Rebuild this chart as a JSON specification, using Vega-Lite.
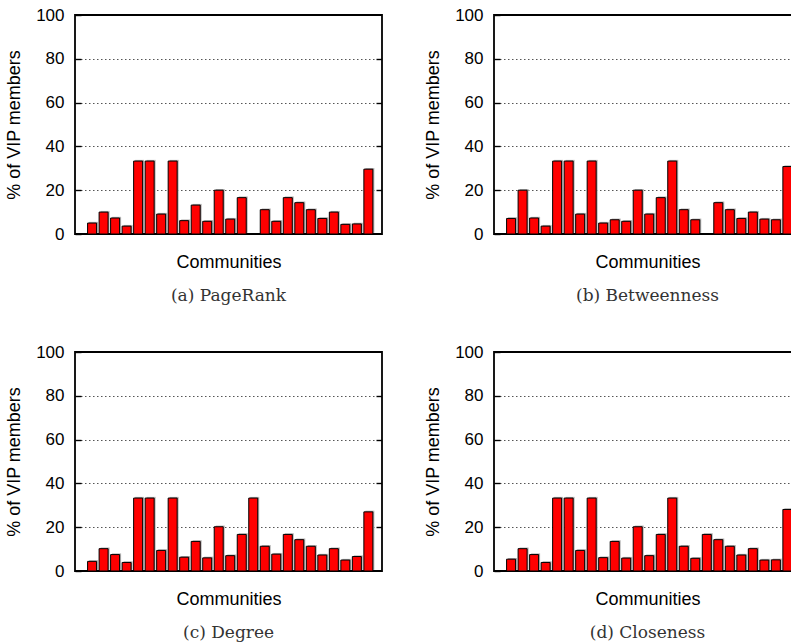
{
  "$schema": "https://vega.github.io/schema/vega-lite/v6.json",
  "padding": {"left": 4, "top": 5, "right": 0, "bottom": 0},
  "background": "white",
  "datasets": {
    "pagerank": [
      {"community": 1, "pct": 5.0}, {"community": 2, "pct": 10.0}, {"community": 3, "pct": 7.3}, {"community": 4, "pct": 3.6}, {"community": 5, "pct": 33.3},
      {"community": 6, "pct": 33.3}, {"community": 7, "pct": 9.1}, {"community": 8, "pct": 33.3}, {"community": 9, "pct": 6.1}, {"community": 10, "pct": 13.2},
      {"community": 11, "pct": 5.8}, {"community": 12, "pct": 20.0}, {"community": 13, "pct": 6.8}, {"community": 14, "pct": 16.6}, {"community": 15, "pct": 0},
      {"community": 16, "pct": 11.1}, {"community": 17, "pct": 5.8}, {"community": 18, "pct": 16.6}, {"community": 19, "pct": 14.3}, {"community": 20, "pct": 11.1},
      {"community": 21, "pct": 7.1}, {"community": 22, "pct": 10.0}, {"community": 23, "pct": 4.4}, {"community": 24, "pct": 4.6}, {"community": 25, "pct": 29.6}
    ],
    "betweenness": [
      {"community": 1, "pct": 7.1}, {"community": 2, "pct": 20.0}, {"community": 3, "pct": 7.3}, {"community": 4, "pct": 3.6}, {"community": 5, "pct": 33.3},
      {"community": 6, "pct": 33.3}, {"community": 7, "pct": 9.1}, {"community": 8, "pct": 33.3}, {"community": 9, "pct": 5.0}, {"community": 10, "pct": 6.5},
      {"community": 11, "pct": 5.8}, {"community": 12, "pct": 20.0}, {"community": 13, "pct": 9.1}, {"community": 14, "pct": 16.6}, {"community": 15, "pct": 33.3},
      {"community": 16, "pct": 11.1}, {"community": 17, "pct": 6.5}, {"community": 18, "pct": 0}, {"community": 19, "pct": 14.3}, {"community": 20, "pct": 11.1},
      {"community": 21, "pct": 7.1}, {"community": 22, "pct": 10.0}, {"community": 23, "pct": 6.8}, {"community": 24, "pct": 6.5}, {"community": 25, "pct": 30.8}
    ],
    "degree": [
      {"community": 1, "pct": 4.4}, {"community": 2, "pct": 10.2}, {"community": 3, "pct": 7.5}, {"community": 4, "pct": 3.9}, {"community": 5, "pct": 33.3},
      {"community": 6, "pct": 33.3}, {"community": 7, "pct": 9.4}, {"community": 8, "pct": 33.3}, {"community": 9, "pct": 6.3}, {"community": 10, "pct": 13.5},
      {"community": 11, "pct": 6.0}, {"community": 12, "pct": 20.2}, {"community": 13, "pct": 7.0}, {"community": 14, "pct": 16.7}, {"community": 15, "pct": 33.3},
      {"community": 16, "pct": 11.3}, {"community": 17, "pct": 7.7}, {"community": 18, "pct": 16.7}, {"community": 19, "pct": 14.3}, {"community": 20, "pct": 11.3},
      {"community": 21, "pct": 7.3}, {"community": 22, "pct": 10.2}, {"community": 23, "pct": 5.0}, {"community": 24, "pct": 6.6}, {"community": 25, "pct": 27.0}
    ],
    "closeness": [
      {"community": 1, "pct": 5.4}, {"community": 2, "pct": 10.2}, {"community": 3, "pct": 7.5}, {"community": 4, "pct": 3.9}, {"community": 5, "pct": 33.3},
      {"community": 6, "pct": 33.3}, {"community": 7, "pct": 9.4}, {"community": 8, "pct": 33.3}, {"community": 9, "pct": 6.1}, {"community": 10, "pct": 13.5},
      {"community": 11, "pct": 5.9}, {"community": 12, "pct": 20.2}, {"community": 13, "pct": 7.0}, {"community": 14, "pct": 16.7}, {"community": 15, "pct": 33.3},
      {"community": 16, "pct": 11.3}, {"community": 17, "pct": 5.8}, {"community": 18, "pct": 16.7}, {"community": 19, "pct": 14.3}, {"community": 20, "pct": 11.3},
      {"community": 21, "pct": 7.3}, {"community": 22, "pct": 10.2}, {"community": 23, "pct": 5.0}, {"community": 24, "pct": 5.1}, {"community": 25, "pct": 28.1}
    ]
  },
  "vconcat": [
    {
      "hconcat": [
        {
          "width": 307, "height": 219,
          "data": {"name": "pagerank"},
          "title": {"text": "(a) PageRank"},
          "layer": [
            {"mark": {"type": "bar", "width": 9, "fill": "#b4b4b4", "xOffset": 1.5, "yOffset": -1.2},
             "encoding": {
               "x": {"field": "community", "type": "quantitative", "scale": {"domain": [-0.05, 25.75], "nice": false, "zero": false}, "axis": {"title": "Communities", "labels": false, "ticks": false, "grid": false, "domain": false, "titlePadding": 19}},
               "y": {"field": "pct", "type": "quantitative", "scale": {"domain": [0, 100], "nice": false}, "axis": {"orient": "right", "title": null, "labels": false, "values": [20, 40, 60, 80], "grid": true, "tickSize": -6}}}},
            {"mark": {"type": "bar", "width": 9, "fill": "#ff0000", "stroke": "#000000", "strokeWidth": 1},
             "encoding": {
               "x": {"field": "community", "type": "quantitative", "scale": {"domain": [-0.05, 25.75], "nice": false, "zero": false}, "axis": {"title": "Communities", "labels": false, "ticks": false, "grid": false, "domain": false, "titlePadding": 19}},
               "y": {"field": "pct", "type": "quantitative", "scale": {"domain": [0, 100], "nice": false}, "axis": {"orient": "left", "title": "% of VIP members", "values": [0, 20, 40, 60, 80, 100], "grid": false, "tickSize": -6, "labelPadding": 17, "titlePadding": 12}}}}
          ],
          "resolve": {"axis": {"y": "independent"}}
        },
        {
          "width": 307, "height": 219,
          "data": {"name": "betweenness"},
          "title": {"text": "(b) Betweenness"},
          "layer": [
            {"mark": {"type": "bar", "width": 9, "fill": "#b4b4b4", "xOffset": 1.5, "yOffset": -1.2},
             "encoding": {
               "x": {"field": "community", "type": "quantitative", "scale": {"domain": [-0.05, 25.75], "nice": false, "zero": false}, "axis": {"title": "Communities", "labels": false, "ticks": false, "grid": false, "domain": false, "titlePadding": 19}},
               "y": {"field": "pct", "type": "quantitative", "scale": {"domain": [0, 100], "nice": false}, "axis": {"orient": "right", "title": null, "labels": false, "values": [20, 40, 60, 80], "grid": true, "tickSize": -6}}}},
            {"mark": {"type": "bar", "width": 9, "fill": "#ff0000", "stroke": "#000000", "strokeWidth": 1},
             "encoding": {
               "x": {"field": "community", "type": "quantitative", "scale": {"domain": [-0.05, 25.75], "nice": false, "zero": false}, "axis": {"title": "Communities", "labels": false, "ticks": false, "grid": false, "domain": false, "titlePadding": 19}},
               "y": {"field": "pct", "type": "quantitative", "scale": {"domain": [0, 100], "nice": false}, "axis": {"orient": "left", "title": "% of VIP members", "values": [0, 20, 40, 60, 80, 100], "grid": false, "tickSize": -6, "labelPadding": 17, "titlePadding": 12}}}}
          ],
          "resolve": {"axis": {"y": "independent"}}
        }
      ],
      "spacing": 39
    },
    {
      "hconcat": [
        {
          "width": 307, "height": 219,
          "data": {"name": "degree"},
          "title": {"text": "(c) Degree"},
          "layer": [
            {"mark": {"type": "bar", "width": 9, "fill": "#b4b4b4", "xOffset": 1.5, "yOffset": -1.2},
             "encoding": {
               "x": {"field": "community", "type": "quantitative", "scale": {"domain": [-0.05, 25.75], "nice": false, "zero": false}, "axis": {"title": "Communities", "labels": false, "ticks": false, "grid": false, "domain": false, "titlePadding": 19}},
               "y": {"field": "pct", "type": "quantitative", "scale": {"domain": [0, 100], "nice": false}, "axis": {"orient": "right", "title": null, "labels": false, "values": [20, 40, 60, 80], "grid": true, "tickSize": -6}}}},
            {"mark": {"type": "bar", "width": 9, "fill": "#ff0000", "stroke": "#000000", "strokeWidth": 1},
             "encoding": {
               "x": {"field": "community", "type": "quantitative", "scale": {"domain": [-0.05, 25.75], "nice": false, "zero": false}, "axis": {"title": "Communities", "labels": false, "ticks": false, "grid": false, "domain": false, "titlePadding": 19}},
               "y": {"field": "pct", "type": "quantitative", "scale": {"domain": [0, 100], "nice": false}, "axis": {"orient": "left", "title": "% of VIP members", "values": [0, 20, 40, 60, 80, 100], "grid": false, "tickSize": -6, "labelPadding": 17, "titlePadding": 12}}}}
          ],
          "resolve": {"axis": {"y": "independent"}}
        },
        {
          "width": 307, "height": 219,
          "data": {"name": "closeness"},
          "title": {"text": "(d) Closeness"},
          "layer": [
            {"mark": {"type": "bar", "width": 9, "fill": "#b4b4b4", "xOffset": 1.5, "yOffset": -1.2},
             "encoding": {
               "x": {"field": "community", "type": "quantitative", "scale": {"domain": [-0.05, 25.75], "nice": false, "zero": false}, "axis": {"title": "Communities", "labels": false, "ticks": false, "grid": false, "domain": false, "titlePadding": 19}},
               "y": {"field": "pct", "type": "quantitative", "scale": {"domain": [0, 100], "nice": false}, "axis": {"orient": "right", "title": null, "labels": false, "values": [20, 40, 60, 80], "grid": true, "tickSize": -6}}}},
            {"mark": {"type": "bar", "width": 9, "fill": "#ff0000", "stroke": "#000000", "strokeWidth": 1},
             "encoding": {
               "x": {"field": "community", "type": "quantitative", "scale": {"domain": [-0.05, 25.75], "nice": false, "zero": false}, "axis": {"title": "Communities", "labels": false, "ticks": false, "grid": false, "domain": false, "titlePadding": 19}},
               "y": {"field": "pct", "type": "quantitative", "scale": {"domain": [0, 100], "nice": false}, "axis": {"orient": "left", "title": "% of VIP members", "values": [0, 20, 40, 60, 80, 100], "grid": false, "tickSize": -6, "labelPadding": 17, "titlePadding": 12}}}}
          ],
          "resolve": {"axis": {"y": "independent"}}
        }
      ],
      "spacing": 39
    }
  ],
  "spacing": 37,
  "config": {
    "view": {"stroke": "#000000", "strokeWidth": 1.8},
    "axis": {
      "labelFont": "Liberation Sans", "labelFontSize": 17, "labelColor": "#000000",
      "titleFont": "Liberation Sans", "titleFontSize": 18, "titleFontWeight": "normal", "titleColor": "#000000",
      "domain": false, "tickColor": "#000000", "tickWidth": 1.4,
      "gridColor": "#555555", "gridDash": [1.5, 2.5], "gridWidth": 1, "gridOpacity": 1
    },
    "title": {
      "orient": "bottom", "frame": "group", "anchor": "middle",
      "font": "DejaVu Serif", "fontSize": 17, "fontWeight": "normal", "color": "#333333", "offset": 17
    }
  }
}
